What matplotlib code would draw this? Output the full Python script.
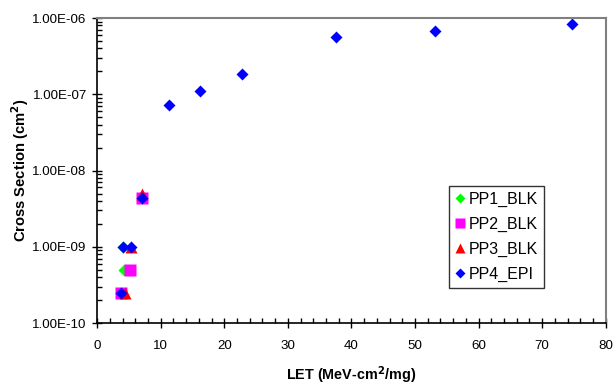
import numpy as np
import matplotlib
matplotlib.use("Agg")
import matplotlib.pyplot as plt
from matplotlib.ticker import FixedLocator, MultipleLocator, FuncFormatter, LogLocator, NullFormatter

plt.rcParams['font.family'] = ['Liberation Sans', 'DejaVu Sans']

# cross section vs LET for each test part
pp1_let = [3.7, 4.2, 4.1, 7.1]
pp1_xs = [2.5e-10, 5.0e-10, 1.0e-9, 4.3e-9]

pp2_let = [3.8, 5.2, 7.1]
pp2_xs = [2.5e-10, 5.0e-10, 4.3e-9]

pp3_let = [4.3, 5.3, 7.1]
pp3_xs = [2.5e-10, 1.0e-9, 4.9e-9]

pp4_let = [3.7, 4.1, 5.3, 7.1, 11.3, 16.2, 22.8, 37.5, 53.1, 74.7]
pp4_xs = [2.5e-10, 1.0e-9, 1.0e-9, 4.3e-9, 7.2e-8, 1.1e-7, 1.85e-7, 5.6e-7, 6.7e-7, 8.3e-7]

fig = plt.figure(figsize=(6.15, 3.85), dpi=100)
ax = fig.add_axes([0.158, 0.161, 0.827, 0.792])

ax.plot(pp1_let, pp1_xs, 'D', color='#00ff00', ms=6.3, mec='none', label='PP1_BLK')
ax.plot(pp2_let, pp2_xs, 's', color='#ff00ff', ms=8.6, mec='none', label='PP2_BLK')
ax.plot(pp3_let, pp3_xs, '^', color='#ff0000', ms=8.6, mec='none', label='PP3_BLK')
ax.plot(pp4_let, pp4_xs, 'D', color='#0000ff', ms=6.3, mec='none', label='PP4_EPI')

ax.set_yscale('log')
ax.set_xlim(0, 80)
ax.set_ylim(1e-10, 1e-6)

ax.xaxis.set_major_locator(MultipleLocator(10))
ax.xaxis.set_minor_locator(FixedLocator([v for v in np.arange(0, 81, 2) if v % 10 != 0]))
ax.yaxis.set_major_locator(LogLocator(base=10, numticks=10))
ax.yaxis.set_minor_locator(LogLocator(base=10, subs=np.arange(2, 10), numticks=20))
ax.yaxis.set_minor_formatter(NullFormatter())
ax.yaxis.set_major_formatter(FuncFormatter(lambda v, p: ('%.2E' % v)))

ax.tick_params(which='major', direction='inout', length=7, width=1, labelsize=9.6, colors='black', pad=4)
ax.tick_params(which='minor', direction='in', length=3.5, width=1)
ax.tick_params(axis='x', which='major', pad=9)

for side in ['left', 'bottom']:
    ax.spines[side].set_color('black')
    ax.spines[side].set_linewidth(1.2)
for side in ['top', 'right']:
    ax.spines[side].set_color('#808080')
    ax.spines[side].set_linewidth(1.5)

ax.set_xlabel('LET (MeV-cm$^\\mathbf{2}$/mg)', fontsize=10.4, fontweight='bold', labelpad=9)
ax.set_ylabel('Cross Section (cm$^\\mathbf{2}$)', fontsize=10.6, fontweight='bold', labelpad=1)

leg = ax.legend(loc='upper left', bbox_to_anchor=(0.676, 0.475), fontsize=11.5,
                frameon=True, fancybox=False, edgecolor='black', handlelength=0.7,
                handletextpad=0.2, borderpad=0.35, labelspacing=0.62, markerscale=0.8,
                borderaxespad=0.5)
leg.get_frame().set_linewidth(1.0)

fig.savefig('out.png', dpi=100)
